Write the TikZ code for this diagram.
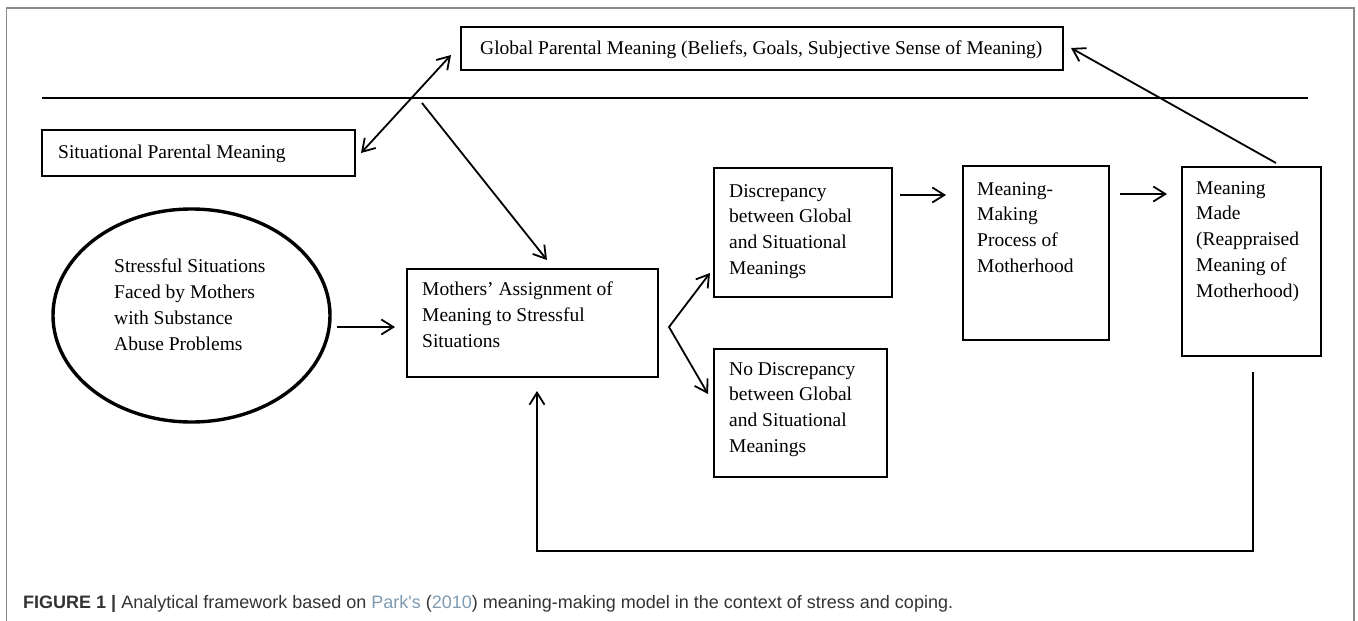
\documentclass[tikz,border=0pt]{standalone}
\usepackage{fontspec}
\setmainfont{Liberation Serif}
\newfontfamily\capfont{Liberation Sans}
\usetikzlibrary{arrows.meta,shapes.geometric,calc}
\definecolor{framec}{HTML}{8A8A8A}
\definecolor{capc}{HTML}{333333}
\definecolor{linkc}{HTML}{7F9BB3}
\begin{document}
\begin{tikzpicture}[x=1pt,y=-1pt,
  boxn/.style={draw=black, line width=1.7pt, rectangle, inner sep=0pt, fill=white},
  txt/.style={anchor=north west, inner sep=0pt, align=left, font=\fontsize{19.5}{25.8}\selectfont},
  conn/.style={line width=1.8pt, -{Straight Barb[length=12pt,width=15pt,line width=1.8pt]}},
  dconn/.style={line width=1.8pt, {Straight Barb[length=12pt,width=15pt,line width=1.8pt]}-{Straight Barb[length=12pt,width=15pt,line width=1.8pt]}},
  plain/.style={line width=2pt}]
\useasboundingbox (0,0) rectangle (1358,621);
\fill[white] (0,0) rectangle (1358,621);
% frame
\draw[framec, line width=1.2pt] (6.5,621) -- (6.5,8) -- (1354,8) -- (1354,621);
% divider line
\coordinate (divL) at (42,98);
\coordinate (divR) at (1308,98);
\draw[line width=2.3pt] (divL) -- (divR);
% boxes
\node[boxn, minimum width=602pt, minimum height=43pt] (glob) at (762,48.5) {};
\node[boxn, minimum width=313pt, minimum height=46pt] (sit) at (198.5,153) {};
\node[draw=black, line width=3.4pt, ellipse, minimum width=277pt, minimum height=213pt, inner sep=0pt] (ell) at (191.5,315.5) {};
\node[boxn, minimum width=251pt, minimum height=108pt] (moth) at (532.5,323) {};
\node[boxn, minimum width=178pt, minimum height=129pt] (disc) at (803,232.5) {};
\node[boxn, minimum width=173pt, minimum height=128pt] (nodisc) at (800.5,413) {};
\node[boxn, minimum width=146pt, minimum height=174pt] (mmp) at (1036,253) {};
\node[boxn, minimum width=139pt, minimum height=189pt] (made) at (1251.5,261.5) {};
% texts
\node[txt] (globt) at (480,41) {Global Parental Meaning (Beliefs, Goals, Subjective Sense of Meaning)};
\node[txt] (sitt) at (58,145) {Situational Parental Meaning};
\node[txt] (ellt) at (114,259) {Stressful Situations\\Faced by Mothers\\with Substance\\Abuse Problems};
\node[txt] (motht) at (422,282) {Mothers' Assignment of\\Meaning to Stressful\\Situations};
\node[txt] (disct) at (729,184) {Discrepancy\\between Global\\and Situational\\Meanings};
\node[txt] (nodisct) at (729,362) {No Discrepancy\\between Global\\and Situational\\Meanings};
\node[txt] (mmpt) at (977,182) {Meaning-\\Making\\Process of\\Motherhood};
\node[txt] (madet) at (1196,181) {Meaning\\Made\\(Reappraised\\Meaning of\\Motherhood)};
% connector end points
\coordinate (dA) at (361,153);
\coordinate (dB) at (451,55);
\coordinate (sA) at (422,103);
\coordinate (sB) at (547,260);
\coordinate (rA) at (1276,163);
\coordinate (rB) at (1071,48);
\coordinate (eA) at (337,327);
\coordinate (eB) at (395,327);
\coordinate (fU) at (710,273);
\coordinate (fM) at (669,327);
\coordinate (fD) at (708,394);
\coordinate (pA) at (900,195);
\coordinate (pB) at (946,195);
\coordinate (qA) at (1120,194);
\coordinate (qB) at (1167,194);
\coordinate (bA) at (1253,372);
\coordinate (bC1) at (1253,551);
\coordinate (bC2) at (537,551);
\coordinate (bB) at (537,391);
% connectors
\draw[dconn] (dA) -- (dB);
\draw[conn] (sA) -- (sB);
\draw[conn] (rA) -- (rB);
\draw[conn] (eA) -- (eB);
\draw[dconn] (fU) -- (fM) -- (fD);
\draw[conn] (pA) -- (pB);
\draw[conn] (qA) -- (qB);
\draw[conn, rounded corners=0pt] (bA) -- (bC1) -- (bC2) -- (bB);
% caption
\node[anchor=base west, inner sep=0pt, text=capc, font=\capfont\fontsize{18}{22}\selectfont] (cap) at (23,608.5)
  {\textbf{FIGURE 1 |} Analytical framework based on \textcolor{linkc}{Park's} (\textcolor{linkc}{2010}) meaning-making model in the context of stress and coping.};
\end{tikzpicture}
\end{document}
